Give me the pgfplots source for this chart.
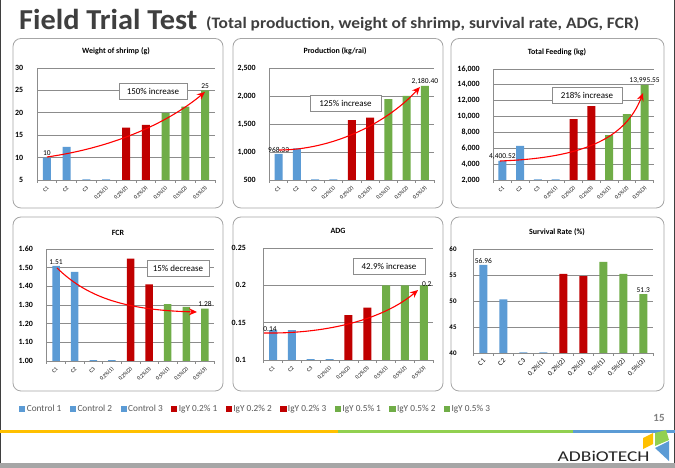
\documentclass[border=0pt]{standalone}
\usepackage{pgfplots}
\pgfplotsset{compat=1.18}
\usepackage{graphicx}
\usepackage{fontspec}
\setmainfont{Carlito}
\usetikzlibrary{arrows.meta}

\definecolor{cblue}{HTML}{5B9BD5}
\definecolor{cred}{HTML}{C00000}
\definecolor{cgreen}{HTML}{70AD47}
\definecolor{gridgray}{HTML}{8C8C8C}
\definecolor{boxgray}{HTML}{A6A6A6}
\definecolor{titlegray}{HTML}{3F3F3F}
\definecolor{leggray}{HTML}{595959}
\definecolor{lorange}{HTML}{FFC000}
\definecolor{lgreen}{HTML}{92D050}
\definecolor{arrowred}{HTML}{FF0000}

\newcommand{\fs}[1]{\fontsize{#1}{#1}\selectfont}

\tikzset{
  lab/.style={font=\fs{7.5}, inner sep=1.5bp},
  note/.style={draw=gridgray, line width=0.7bp, fill=white, font=\fs{9}, inner sep=0pt, minimum height=16bp},
  trend/.style={arrowred, line width=1.1bp, -{Stealth[length=8bp,width=7bp]}},
  ptitle/.style={font=\fs{8}\bfseries},
}

\pgfplotsset{
  panel/.style={
    scale only axis, anchor=south west,
    ybar, bar width=8bp, bar shift=0pt,
    xmin=-0.5, xmax=8.5, enlarge x limits=false,
    xtick={0,...,8},
    xticklabels={C1,C2,C3,0.2\%(1),0.2\%(2),0.2\%(3),0.5\%(1),0.5\%(2),0.5\%(3)},
    xticklabel style={rotate=45, anchor=east, font=\fs{5.5}, inner sep=1bp, yshift=-2.5bp},
    major x tick style={draw=none},
    minor xtick={-0.5,0.5,...,8.5},
    minor tick length=3bp,
    tick align=outside,
    minor x tick style={gridgray, line width=0.6bp},
    axis x line*=bottom, axis y line*=left,
    axis line style={gridgray, line width=0.8bp},
    ymajorgrids, grid style={gridgray, line width=0.8bp},
    major y tick style={draw=none},
    yticklabel style={font=\fs{8}\bfseries, xshift=-6bp},
    scaled y ticks=false,
    /pgf/number format/assume math mode=true,
    clip mode=individual,
  },
}

\begin{document}
\begin{tikzpicture}[x=1bp,y=1bp]
\path[use as bounding box] (0,0) rectangle (675,468);
\fill[white] (0,0) rectangle (675,468);

% slide frame and footer
\fill[gray!70] (0,0) rectangle (675,5);
\draw[titlegray, line width=1.2bp] (0.6,5) -- (0.6,468);
\draw[titlegray, line width=1.2bp] (674.4,5) -- (674.4,468);
\fill[lorange] (0,35) rectangle (338,38.3);
\fill[lgreen] (338,35) rectangle (573,38.3);
\fill[cblue] (573,35) rectangle (675,38.3);
\node[font=\fs{11}\bfseries, text=gray] at (659,50) {15};
\node[anchor=base east, text=black!85] at (653,6.5) {\scalebox{1.3}[1]{\fs{15}ADBiOTECH}};
\fill[lorange] (643,19) -- (643,30) -- (653,35) -- (653,24) -- cycle;
\fill[lgreen] (655,35) -- (666,38) -- (669,28) -- (655,22) -- cycle;
\fill[cblue] (655,20) -- (669,27) -- (669,7) -- cycle;

% title
\node[anchor=base west, text=titlegray, inner sep=0pt] at (19,438) {\scalebox{1.05}[1]{\fs{29}\bfseries Field Trial Test}};
\node[anchor=base west, text=titlegray, inner sep=0pt] at (206,439) {\scalebox{1.09}[1]{\fs{16}\bfseries (Total production, weight of shrimp, survival rate, ADG, FCR)}};

% panel frames
\foreach \xa/\xb in {13/223, 233/443, 451/664}{
  \draw[boxgray, line width=0.8bp, rounded corners=8bp, fill=white] (\xa,260) rectangle (\xb,429.5);
  \draw[boxgray, line width=0.8bp, rounded corners=8bp, fill=white] (\xa,77) rectangle (\xb,251);
}

% panel titles
\node[ptitle] at (116,417) {Weight of shrimp (g)};
\node[ptitle] at (335,417) {Production (kg/rai)};
\node[ptitle] at (557,416) {Total Feeding (kg)};
\node[ptitle] at (118,235) {FCR};
\node[ptitle] at (338,237) {ADG};
\node[ptitle] at (557,236) {Survival Rate (\%)};

% Weight of shrimp
\begin{axis}[panel, at={(37bp,288bp)}, width=178bp, height=112bp,
  ymin=5, ymax=30, ytick={5,10,...,30}]
\addplot[fill=cblue, draw=none] coordinates {(0,10) (1,12.4) (2,5.15) (3,5.15)};
\addplot[fill=cred, draw=none] coordinates {(4,16.7) (5,17.3)};
\addplot[fill=cgreen, draw=none] coordinates {(6,20.0) (7,21.4) (8,25)};
\node[lab, above] at (axis cs:0,10) {10};
\node[lab, above] at (axis cs:8,25) {25};
\end{axis}

% Production
\begin{axis}[panel, at={(269.5bp,288bp)}, width=164.5bp, height=112bp,
  ymin=500, ymax=2500, ytick={500,1000,...,2500}]
\addplot[fill=cblue, draw=none] coordinates {(0,968.33) (1,1065) (2,512) (3,512)};
\addplot[fill=cred, draw=none] coordinates {(4,1571) (5,1613)};
\addplot[fill=cgreen, draw=none] coordinates {(6,1946) (7,2000) (8,2180.40)};
\node[lab, above] at (axis cs:0,968.33) {968.33};
\node[lab, above] at (axis cs:8,2180.40) {2,180.40};
\end{axis}

% Total feeding
\begin{axis}[panel, at={(493.5bp,288bp)}, width=160bp, height=111bp,
  ymin=2000, ymax=16000, ytick={2000,4000,...,16000}]
\addplot[fill=cblue, draw=none] coordinates {(0,4400.52) (1,6290) (2,2080) (3,2080)};
\addplot[fill=cred, draw=none] coordinates {(4,9690) (5,11330)};
\addplot[fill=cgreen, draw=none] coordinates {(6,7670) (7,10320) (8,13995.55)};
\node[lab, above] at (axis cs:0,4400.52) {4,400.52};
\node[lab, above] at (axis cs:8,13995.55) {13,995.55};
\end{axis}

% FCR (carries the shared legend)
\begin{axis}[panel, at={(46.7bp,107bp)}, width=167.6bp, height=112bp, bar width=7.5bp,
  ymin=1, ymax=1.6, ytick={1,1.1,1.2,1.3,1.4,1.5,1.6},
  yticklabel style={/pgf/number format/.cd, fixed, fixed zerofill, precision=2},
  legend columns=9,
  legend style={at={(axis description cs:-0.165,-0.4286)}, anchor=west, draw=none, fill=none,
    inner sep=0pt, font=\fs{9.3}\color{leggray},
    /tikz/every even column/.append style={column sep=6.5bp}}]
\addplot[fill=cblue, draw=none, forget plot] coordinates {(0,1.51) (1,1.478) (2,1.004) (3,1.004)};
\addplot[fill=cred, draw=none, forget plot] coordinates {(4,1.548) (5,1.41)};
\addplot[fill=cgreen, draw=none, forget plot] coordinates {(6,1.305) (7,1.29) (8,1.28)};
\node[lab, above] at (axis cs:0,1.51) {1.51};
\node[lab, above] at (axis cs:8,1.28) {1.28};
\addlegendimage{legend image code/.code={\fill[cblue] (0bp,-2.6bp) rectangle (5.2bp,2.6bp);}}
\addlegendentry{Control 1}
\addlegendimage{legend image code/.code={\fill[cblue] (0bp,-2.6bp) rectangle (5.2bp,2.6bp);}}
\addlegendentry{Control 2}
\addlegendimage{legend image code/.code={\fill[cblue] (0bp,-2.6bp) rectangle (5.2bp,2.6bp);}}
\addlegendentry{Control 3}
\addlegendimage{legend image code/.code={\fill[cred] (0bp,-2.6bp) rectangle (5.2bp,2.6bp);}}
\addlegendentry{IgY 0.2\% 1}
\addlegendimage{legend image code/.code={\fill[cred] (0bp,-2.6bp) rectangle (5.2bp,2.6bp);}}
\addlegendentry{IgY 0.2\% 2}
\addlegendimage{legend image code/.code={\fill[cred] (0bp,-2.6bp) rectangle (5.2bp,2.6bp);}}
\addlegendentry{IgY 0.2\% 3}
\addlegendimage{legend image code/.code={\fill[cgreen] (0bp,-2.6bp) rectangle (5.2bp,2.6bp);}}
\addlegendentry{IgY 0.5\% 1}
\addlegendimage{legend image code/.code={\fill[cgreen] (0bp,-2.6bp) rectangle (5.2bp,2.6bp);}}
\addlegendentry{IgY 0.5\% 2}
\addlegendimage{legend image code/.code={\fill[cgreen] (0bp,-2.6bp) rectangle (5.2bp,2.6bp);}}
\addlegendentry{IgY 0.5\% 3}
\end{axis}

% ADG
\begin{axis}[panel, at={(263.6bp,108bp)}, width=169.6bp, height=112bp,
  ymin=0.1, ymax=0.25, ytick={0.1,0.15,0.2,0.25},
  yticklabel style={xshift=-4bp}]
\addplot[fill=cblue, draw=none] coordinates {(0,0.14) (1,0.14) (2,0.101) (3,0.101)};
\addplot[fill=cred, draw=none] coordinates {(4,0.16) (5,0.17)};
\addplot[fill=cgreen, draw=none] coordinates {(6,0.2) (7,0.2) (8,0.2)};
\node[lab, anchor=south, xshift=-3bp, yshift=-3bp] at (axis cs:0,0.14) {0.14};
\node[lab, anchor=south, xshift=3bp, yshift=-2.5bp] at (axis cs:8,0.2) {0.2};
\end{axis}

% Survival rate
\begin{axis}[panel, at={(473.3bp,115bp)}, width=180bp, height=104bp,
  ymin=40, ymax=60, ytick={40,45,...,60},
  yticklabel style={font=\fs{7}\bfseries, xshift=-3bp},
  xticklabel style={font=\fs{7}}]
\addplot[fill=cblue, draw=none] coordinates {(0,56.96) (1,50.3) (2,40.12) (3,40.12)};
\addplot[fill=cred, draw=none] coordinates {(4,55.2) (5,54.8)};
\addplot[fill=cgreen, draw=none] coordinates {(6,57.5) (7,55.2) (8,51.3)};
\node[lab, above] at (axis cs:0,56.96) {56.96};
\node[lab, above] at (axis cs:8,51.3) {51.3};
\end{axis}

% trend arrows and notes
\draw[trend] (47,311) .. controls (110,320) and (165,343) .. (205,376);
\draw[trend] (279,318) .. controls (330,318) and (385,343) .. (420,381);
\draw[trend] (500,307) .. controls (580,310) and (625,328) .. (643,375);
\draw[trend] (57,200) .. controls (85,173) and (120,158) .. (197,156);
\draw[trend] (264,135) .. controls (330,134) and (385,150) .. (418,178);
\node[note, minimum width=68bp] at (153,377) {150\% increase};
\node[note, minimum width=71bp] at (345.5,364.5) {125\% increase};
\node[note, minimum width=70bp] at (587,372.5) {218\% increase};
\node[note, minimum width=62bp] at (178,199.5) {15\% decrease};
\node[note, minimum width=72bp] at (389,201.5) {42.9\% increase};
\end{tikzpicture}
\end{document}
